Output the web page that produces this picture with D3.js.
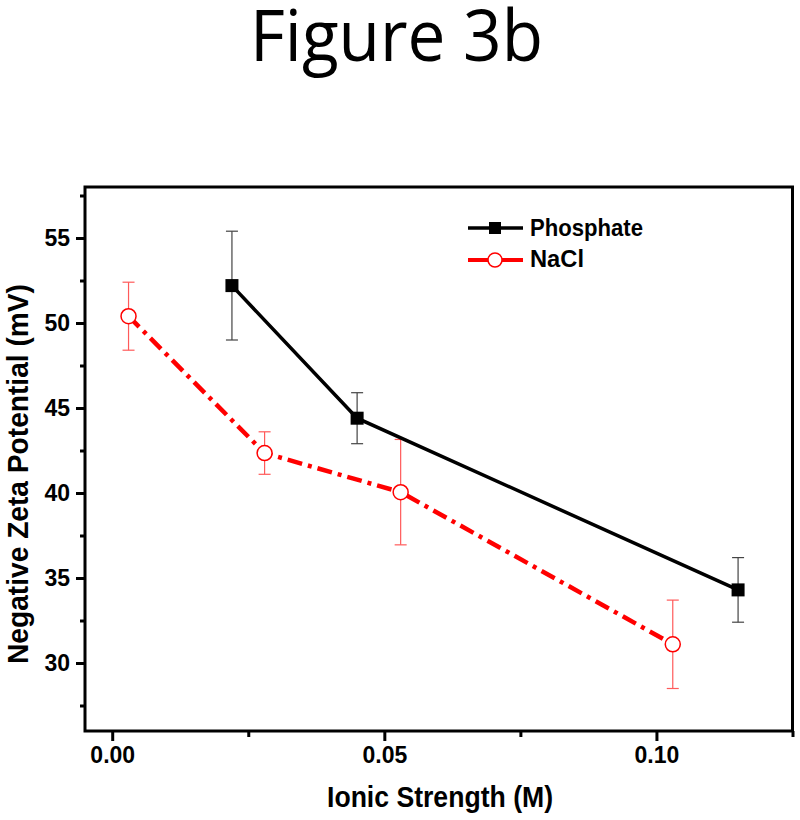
<!DOCTYPE html>
<html>
<head>
<meta charset="utf-8">
<script src="https://cdn.jsdelivr.net/npm/d3@7"></script>
<style>
  body { margin: 0; background: #fff; }
  svg { display: block; }
  .tick text { font-family: "Liberation Sans", Arial, sans-serif; font-weight: bold; font-size: 23px; fill: #000; }
</style>
</head>
<body>
<div id="chart"></div>
<script>
// Data
const phosX = [0.022, 0.045, 0.115];
const phosY = [52.2, 44.4, 34.3];
const phosErr = [3.2, 1.5, 1.9];

const naclX = [0.003, 0.028, 0.053, 0.103];
const naclY = [50.4, 42.35, 40.05, 31.1];
const naclErr = [2.0, 1.25, 3.1, 2.6];

const xTicks = [0, 0.05, 0.10];
const xMinor = [0.025, 0.075, 0.125];
const yTicks = [30, 35, 40, 45, 50, 55];
const yMinor = [27.5, 32.5, 37.5, 42.5, 47.5, 52.5, 57.5];

const width = 800, height = 820;
const plotL = 85, plotR = 792.5, plotT = 187, plotB = 731;

const svg = d3.select('#chart').append('svg')
  .attr('width', width)
  .attr('height', height);

const x = d3.scaleLinear().domain([-0.005, 0.125]).range([plotL, plotR]);
const y = d3.scaleLinear().domain([26, 58]).range([plotB, plotT]);

// title
svg.append('text')
  .attr('x', 250).attr('y', 61)
  .attr('textLength', 293).attr('lengthAdjust', 'spacingAndGlyphs')
  .style('font-family', '"Open Sans", "Noto Sans", sans-serif')
  .style('font-size', '72px')
  .text('Figure 3b');

// axes
svg.append('g')
  .attr('transform', `translate(0,${plotB})`)
  .call(d3.axisBottom(x).tickValues(xTicks).tickSize(10).tickPadding(6).tickFormat(d3.format('.2f')))
  .call(g => g.select('.domain').remove())
  .call(g => g.selectAll('line').attr('stroke-width', 3));
svg.append('g')
  .attr('transform', `translate(0,${plotB})`)
  .call(d3.axisBottom(x).tickValues(xMinor).tickSize(6).tickFormat(''))
  .call(g => g.select('.domain').remove())
  .call(g => g.selectAll('line').attr('stroke-width', 3));

svg.append('g')
  .attr('transform', `translate(${plotL},0)`)
  .call(d3.axisLeft(y).tickValues(yTicks).tickSize(9).tickPadding(6))
  .call(g => g.select('.domain').remove())
  .call(g => g.selectAll('line').attr('stroke-width', 3));
svg.append('g')
  .attr('transform', `translate(${plotL},0)`)
  .call(d3.axisLeft(y).tickValues(yMinor).tickSize(5).tickFormat(''))
  .call(g => g.select('.domain').remove())
  .call(g => g.selectAll('line').attr('stroke-width', 3));

// frame
svg.append('rect')
  .attr('x', plotL).attr('y', plotT)
  .attr('width', plotR - plotL).attr('height', plotB - plotT)
  .attr('fill', 'none').attr('stroke', '#000').attr('stroke-width', 3);

// axis titles
svg.append('text')
  .attr('x', 440).attr('y', 807)
  .attr('text-anchor', 'middle')
  .attr('textLength', 226).attr('lengthAdjust', 'spacingAndGlyphs')
  .style('font-family', '"Liberation Sans", Arial, sans-serif')
  .style('font-weight', 'bold').style('font-size', '30px')
  .text('Ionic Strength (M)');

svg.append('text')
  .attr('transform', 'translate(28,474) rotate(-90)')
  .attr('text-anchor', 'middle')
  .attr('textLength', 380).attr('lengthAdjust', 'spacingAndGlyphs')
  .style('font-family', '"Liberation Sans", Arial, sans-serif')
  .style('font-weight', 'bold').style('font-size', '30px')
  .text('Negative Zeta Potential (mV)');

const phos = phosX.map((v, i) => ({ x: v, y: phosY[i], e: phosErr[i] }));
const nacl = naclX.map((v, i) => ({ x: v, y: naclY[i], e: naclErr[i] }));

function errorBars(data, color) {
  const g = svg.append('g').attr('stroke', color).attr('stroke-width', 1.2);
  data.forEach(d => {
    g.append('line').attr('x1', x(d.x)).attr('x2', x(d.x))
      .attr('y1', y(d.y + d.e)).attr('y2', y(d.y - d.e));
    [d.y + d.e, d.y - d.e].forEach(v => {
      g.append('line').attr('x1', x(d.x) - 6).attr('x2', x(d.x) + 6)
        .attr('y1', y(v)).attr('y2', y(v));
    });
  });
}

errorBars(phos, '#444');
errorBars(nacl, '#ff5a5a');

const line = d3.line().x(d => x(d.x)).y(d => y(d.y));

svg.append('path').datum(phos)
  .attr('d', line)
  .attr('fill', 'none').attr('stroke', '#000').attr('stroke-width', 3.5);

svg.append('path').datum(nacl)
  .attr('d', line)
  .attr('fill', 'none').attr('stroke', '#ff0000').attr('stroke-width', 4.5)
  .attr('stroke-dasharray', '15,6,4,6');

svg.selectAll('.sq').data(phos).enter().append('rect')
  .attr('x', d => x(d.x) - 6.5).attr('y', d => y(d.y) - 6.5)
  .attr('width', 13).attr('height', 13).attr('fill', '#000');

svg.selectAll('.circ').data(nacl).enter().append('circle')
  .attr('cx', d => x(d.x)).attr('cy', d => y(d.y)).attr('r', 7.5)
  .attr('fill', '#fff').attr('stroke', '#ff0000').attr('stroke-width', 1.5);

// legend
const leg = svg.append('g');
leg.append('line').attr('x1', 468).attr('x2', 523).attr('y1', 228).attr('y2', 228)
  .attr('stroke', '#000').attr('stroke-width', 3.5);
leg.append('rect').attr('x', 489).attr('y', 222).attr('width', 12).attr('height', 12).attr('fill', '#000');
leg.append('line').attr('x1', 468).attr('x2', 523).attr('y1', 260).attr('y2', 260)
  .attr('stroke', '#ff0000').attr('stroke-width', 4);
leg.append('circle').attr('cx', 495).attr('cy', 260).attr('r', 7)
  .attr('fill', '#fff').attr('stroke', '#ff0000').attr('stroke-width', 1.5);
leg.append('text').attr('x', 530).attr('y', 236)
  .attr('textLength', 113).attr('lengthAdjust', 'spacingAndGlyphs')
  .style('font-family', '"Liberation Sans", Arial, sans-serif')
  .style('font-weight', 'bold').style('font-size', '24px')
  .text('Phosphate');
leg.append('text').attr('x', 530).attr('y', 267)
  .attr('textLength', 54).attr('lengthAdjust', 'spacingAndGlyphs')
  .style('font-family', '"Liberation Sans", Arial, sans-serif')
  .style('font-weight', 'bold').style('font-size', '24px')
  .text('NaCl');
</script>
</body>
</html>
